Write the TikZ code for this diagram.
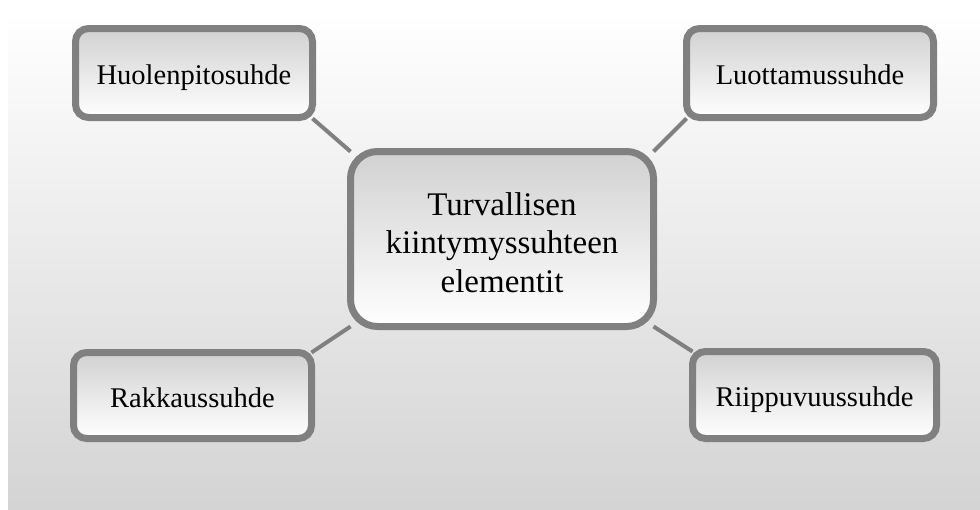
\documentclass[tikz,border=0pt]{standalone}
\usepackage{fontspec}
\setmainfont{Liberation Serif}
\begin{document}
\begin{tikzpicture}[x=1pt,y=-1pt,
  boxline/.style={draw=black!50,line width=7pt},
  leafbox/.style={boxline,rounded corners=13pt,top color=black!18,bottom color=white,
    inner sep=0pt,minimum height=89pt,text height=26pt,text depth=3pt,
    font=\fontsize{28.5}{34}\selectfont},
  hubbox/.style={boxline,rounded corners=27pt,top color=black!18,bottom color=white,
    inner sep=0pt,minimum width=303pt,minimum height=175pt,align=center,
    font=\fontsize{33}{38.5}\selectfont},
  link/.style={draw=black!50,line width=4pt}]
\useasboundingbox (0,0) rectangle (980,509);
\shade[top color=white,bottom color=black!17] (8,12) rectangle (980,509);
\coordinate (hpos) at (194,73);
\coordinate (lpos) at (810,73);
\coordinate (rpos) at (192.5,395.5);
\coordinate (ppos) at (814.5,395);
\coordinate (cpos) at (502,239);
% connectors (drawn first, boxes cover their ends)
\coordinate (hse) at (312.5,118.5);
\coordinate (cnw) at (350.5,151.5);
\coordinate (lsw) at (686.5,118.5);
\coordinate (cne) at (653.5,151.5);
\coordinate (rne) at (311.5,352.5);
\coordinate (csw) at (350.5,326.5);
\coordinate (pnw) at (692.5,351.5);
\coordinate (cse) at (653.5,326.5);
\path[link] (hse) -- (cnw);
\path[link] (lsw) -- (cne);
\path[link] (rne) -- (csw);
\path[link] (pnw) -- (cse);
\node[hubbox] (c) at (cpos) {\rule{0pt}{30pt}Turvallisen\\kiintymyssuhteen\\elementit};
\node[leafbox,minimum width=237pt] (h) at (hpos) {Huolenpitosuhde};
\node[leafbox,minimum width=247pt] (l) at (lpos) {Luottamussuhde};
\node[leafbox,minimum width=238pt,minimum height=86pt] (r) at (rpos) {Rakkaussuhde};
\node[leafbox,minimum width=244pt,minimum height=87pt] (p) at (ppos) {Riippuvuussuhde};
\end{tikzpicture}
\end{document}
